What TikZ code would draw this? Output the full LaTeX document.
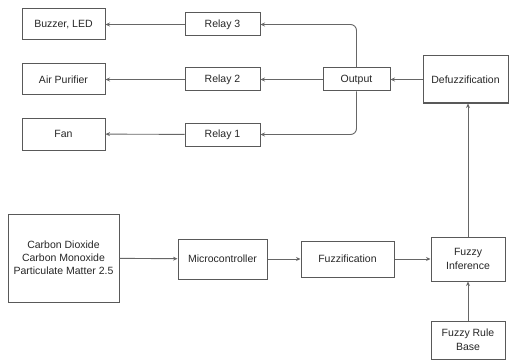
\documentclass[tikz,border=0pt]{standalone}
\usepackage{fontspec}
\setmainfont{Liberation Sans}
\usetikzlibrary{arrows.meta}
\definecolor{boxc}{gray}{0.35}
\definecolor{linec}{gray}{0.4}
\definecolor{txtc}{gray}{0.15}
\begin{document}
\begin{tikzpicture}[x=1pt,y=-1pt,
  blk/.style={draw=boxc,line width=1pt,fill=white,inner sep=1pt,align=center,
    font=\fontsize{10.5}{13}\selectfont,text=txtc},
  conn/.style={draw=linec,line width=0.9pt,-{Stealth[length=4.5pt,width=4pt]}}]
\useasboundingbox (0,0) rectangle (509,361);
\node[blk,minimum width=83pt,minimum height=31pt] (buzzer) at (63.5,24.5) {Buzzer, LED};
\node[blk,minimum width=83pt,minimum height=31pt] (air) at (63.5,79.5) {Air Purifier};
\node[blk,minimum width=83pt,minimum height=32pt] (fan) at (63.5,134) {Fan};
\node[blk,minimum width=75pt,minimum height=23pt] (relay3) at (222.5,24.5) {Relay 3};
\node[blk,minimum width=75pt,minimum height=23pt] (relay2) at (222.5,79.5) {Relay 2};
\node[blk,minimum width=75pt,minimum height=23pt] (relay1) at (222.5,134.5) {Relay 1};
\node[blk,minimum width=67pt,minimum height=23pt] (output) at (356.5,79.5) {Output};
\node[blk,minimum width=85pt,minimum height=47pt] (defuzz) at (465.5,79.5) {Defuzzification};
\node[blk,minimum width=111pt,minimum height=88pt] (carbon) at (63.5,258) {Carbon Dioxide\\Carbon Monoxide\\Particulate Matter 2.5};
\node[blk,minimum width=89pt,minimum height=40pt] (micro) at (222.5,259) {Microcontroller};
\node[blk,minimum width=93pt,minimum height=36pt] (fuzzif) at (347.5,259) {Fuzzification};
\node[blk,minimum width=74pt,minimum height=44pt,font=\fontsize{10.5}{14}\selectfont] (infer) at (468,259) {Fuzzy\\Inference};
\node[blk,minimum width=74pt,minimum height=38pt,font=\fontsize{10.5}{14}\selectfont] (rule) at (468,340) {Fuzzy Rule\\Base};
% connectors
\draw[conn] (relay3) -- (buzzer);
\draw[conn] (relay2) -- (air);
\draw[conn] (relay1) -- (fan);
\draw[conn] (output) -- (relay2);
\draw[conn,rounded corners=6pt] (output.north) |- (relay3.east);
\draw[conn,rounded corners=6pt] (output.south) |- (relay1.east);
\draw[conn] (defuzz) -- (output);
\draw[conn] (carbon) -- (micro);
\draw[conn] (micro) -- (fuzzif);
\draw[conn] (fuzzif) -- (infer);
\draw[conn] (rule) -- (infer);
\draw[conn] (infer.north) -- (infer.north |- defuzz.south);
\end{tikzpicture}
\end{document}
